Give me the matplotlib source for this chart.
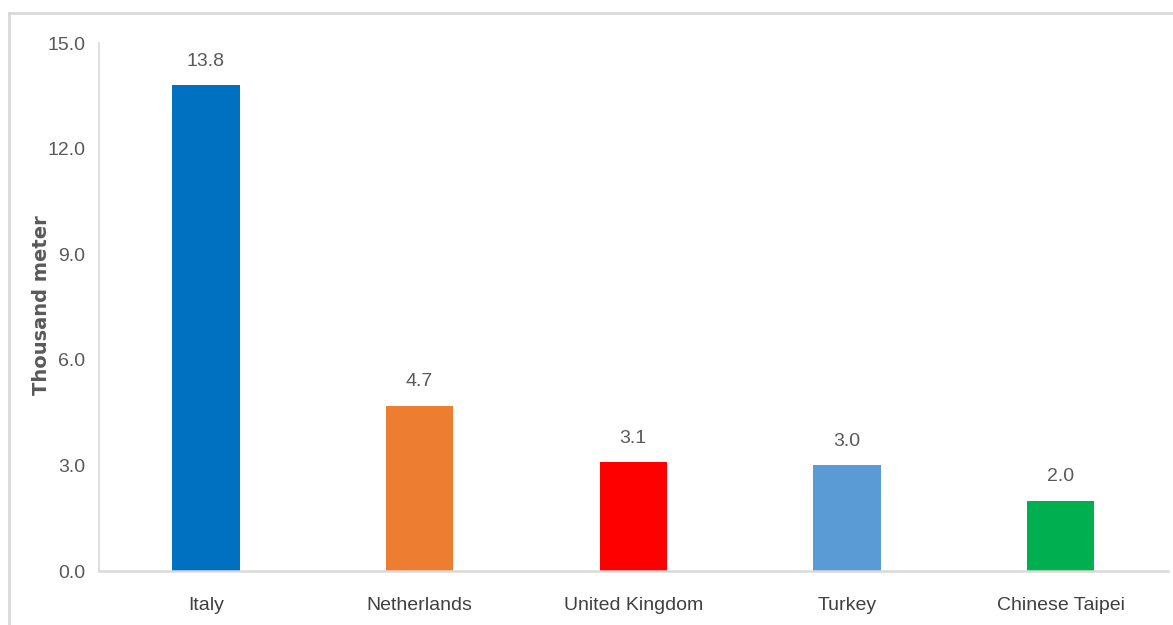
import matplotlib
matplotlib.use("Agg")
import matplotlib.pyplot as plt
from matplotlib.lines import Line2D

categories = ["Italy", "Netherlands", "United Kingdom", "Turkey", "Chinese Taipei"]
values = [13.8, 4.7, 3.1, 3.0, 2.0]
colors = ["#0070C0", "#ED7D31", "#FF0000", "#5B9BD5", "#00B050"]
yticks = [0.0, 3.0, 6.0, 9.0, 12.0, 15.0]
ylabel = "Thousand meter"

W, H = 1173, 625
fig = plt.figure(figsize=(W / 100, H / 100), dpi=100)
ax = fig.add_axes([99 / W, 1 - 571 / H, (1167.5 - 99) / W, (571 - 43) / H])

narrow = ["Liberation Sans Narrow", "Liberation Sans", "DejaVu Sans"]
txt = "#595959"
grid = "#D9D9D9"

x = list(range(len(categories)))
bars = ax.bar(x, values, width=0.315, color=colors, zorder=2)
for xi, v in zip(x, values):
    ax.annotate(f"{v:.1f}", (xi, v), xytext=(0, 11), textcoords="offset points",
                ha="center", va="bottom", fontsize=14, color=txt, family=narrow)

ax.set_xlim(-0.5, len(categories) - 0.5)
ax.set_ylim(0, 15)
ax.set_yticks(yticks)
ax.set_yticklabels([f"{t:.1f}" for t in yticks], family=narrow, fontsize=14, color=txt)
ax.set_xticks(x)
ax.set_xticklabels(categories, family=narrow, fontsize=14, color="#404040")
ax.tick_params(axis="both", length=0)
ax.tick_params(axis="y", pad=10)
ax.tick_params(axis="x", pad=19)

for s in ["top", "right"]:
    ax.spines[s].set_visible(False)
ax.spines["left"].set_color(grid)
ax.spines["left"].set_linewidth(1.2)
ax.spines["bottom"].set_color(grid)
ax.spines["bottom"].set_linewidth(1.8)

fig.text(42 / W, 1 - 305 / H, ylabel, rotation=90, ha="center", va="center",
         fontsize=14, color=txt, family="DejaVu Sans", fontweight="semibold")

# outer frame (top & left visible)
fig.add_artist(Line2D([9 / W, 1.0], [1 - 13 / H, 1 - 13 / H], transform=fig.transFigure,
                      color=grid, lw=2))
fig.add_artist(Line2D([9 / W, 9 / W], [0, 1 - 13 / H], transform=fig.transFigure,
                      color=grid, lw=2))

fig.savefig("out.png", dpi=100, facecolor="white")
